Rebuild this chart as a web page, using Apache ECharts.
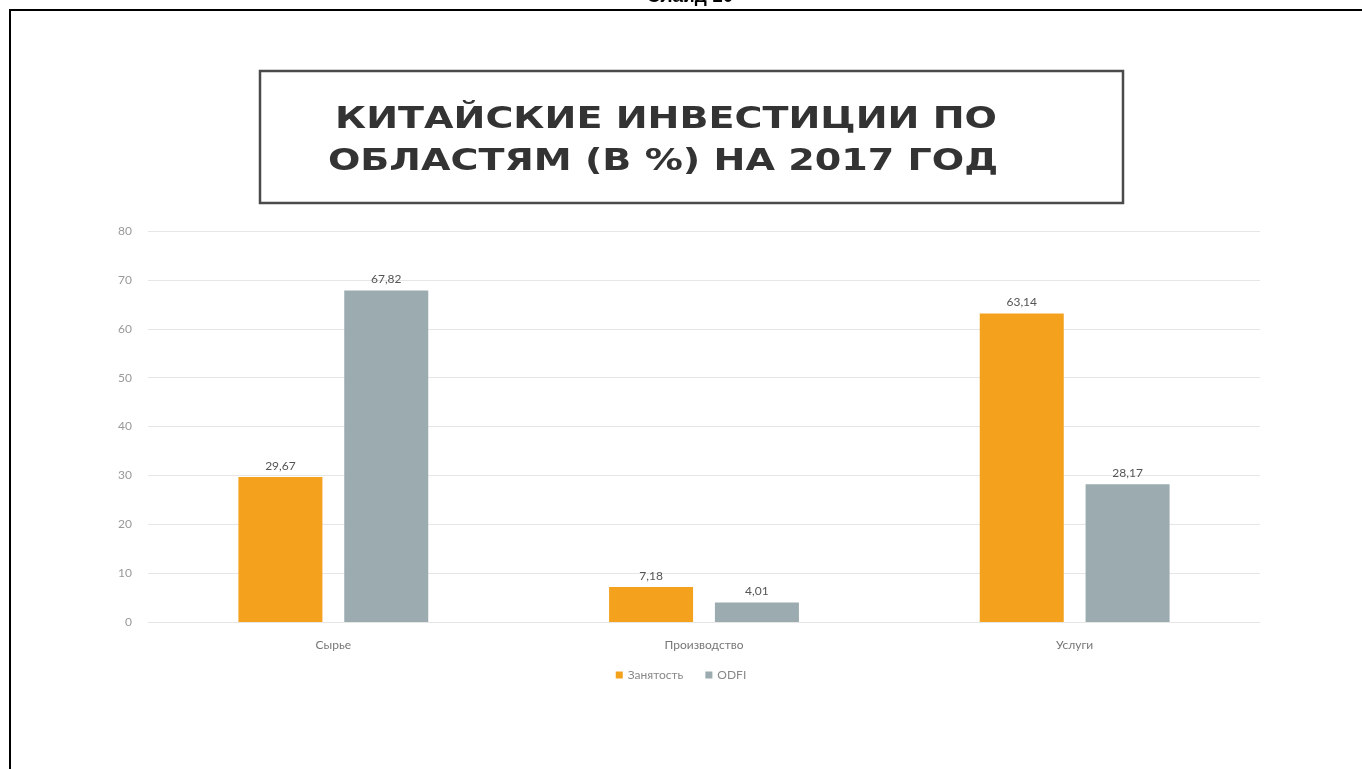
<!DOCTYPE html>
<html>
<head>
<meta charset="utf-8">
<script src="https://cdn.jsdelivr.net/npm/echarts@6/dist/echarts.min.js"></script>
<style>
html,body{margin:0;padding:0;background:#fff;}
#chart{width:1362px;height:769px;}
</style>
</head>
<body>
<div id="chart"></div>
<script>
var slideLabel = 'Слайд 10';
var titleLines = ['КИТАЙСКИЕ ИНВЕСТИЦИИ ПО', 'ОБЛАСТЯМ (В %) НА 2017 ГОД'];
var categories = ['Сырье', 'Производство', 'Услуги'];
var seriesNames = ['Занятость', 'ODFI'];
var employment = [29.67, 7.18, 63.14];
var odfi = [67.82, 4.01, 28.17];
var yTicks = [0, 10, 20, 30, 40, 50, 60, 70, 80];

var chart = echarts.init(document.getElementById('chart'));
function fmt(p){ return p.value.toFixed(2).replace('.', ','); }
var option = {
  animation: false,
  backgroundColor: '#fff',
  color: ['#F4A11D', '#9BABAF'],
  grid: { left: 148, right: 102, top: 231, bottom: 147 },
  legend: {
    data: seriesNames,
    bottom: 83,
    left: 'center',
    itemWidth: 7, itemHeight: 7, itemGap: 22,
    icon: 'rect',
    textStyle: { color: '#888', fontSize: 12, fontFamily: 'Lato' }
  },
  xAxis: {
    type: 'category',
    data: categories,
    axisLine: { show: true, lineStyle: { color: '#e6e6e6' } },
    axisTick: { show: false },
    axisLabel: { color: '#777', fontSize: 12, fontFamily: 'Lato', margin: 17 }
  },
  yAxis: {
    type: 'value',
    min: yTicks[0], max: yTicks[yTicks.length - 1], interval: 10,
    axisLine: { show: false },
    axisTick: { show: false },
    axisLabel: { color: '#999', fontSize: 12, fontFamily: 'Lato', margin: 16 },
    splitLine: { lineStyle: { color: '#e6e6e6' } }
  },
  series: [
    { name: seriesNames[0], type: 'bar', data: employment, barWidth: 84, barGap: '26%',
      label: { show: true, position: 'top', color: '#555', fontSize: 12, fontFamily: 'Lato', formatter: fmt } },
    { name: seriesNames[1], type: 'bar', data: odfi, barWidth: 84,
      label: { show: true, position: 'top', color: '#555', fontSize: 12, fontFamily: 'Lato', formatter: fmt } }
  ],
  graphic: [
    { type: 'line', shape: { x1: 9, y1: 10, x2: 1362, y2: 10 }, style: { stroke: '#000', lineWidth: 2 } },
    { type: 'line', shape: { x1: 10, y1: 9, x2: 10, y2: 769 }, style: { stroke: '#000', lineWidth: 2 } },
    { type: 'text', x: 690, y: 6, style: { text: slideLabel, fill: '#000', font: 'bold 19px "Liberation Sans"', textAlign: 'center', textVerticalAlign: 'bottom' } },
    { type: 'rect', shape: { x: 260, y: 71, width: 863, height: 132 }, style: { fill: 'none', stroke: '#4a4a4a', lineWidth: 2.5 } },
    { type: 'text', x: 666, y: 120, scaleX: 1.27, style: { text: titleLines[0], fill: '#333', font: 'bold 30px "DejaVu Sans"', textAlign: 'center', textVerticalAlign: 'middle' } },
    { type: 'text', x: 663, y: 162, scaleX: 1.27, style: { text: titleLines[1], fill: '#333', font: 'bold 30px "DejaVu Sans"', textAlign: 'center', textVerticalAlign: 'middle' } }
  ]
};
chart.setOption(option);
</script>
</body>
</html>
